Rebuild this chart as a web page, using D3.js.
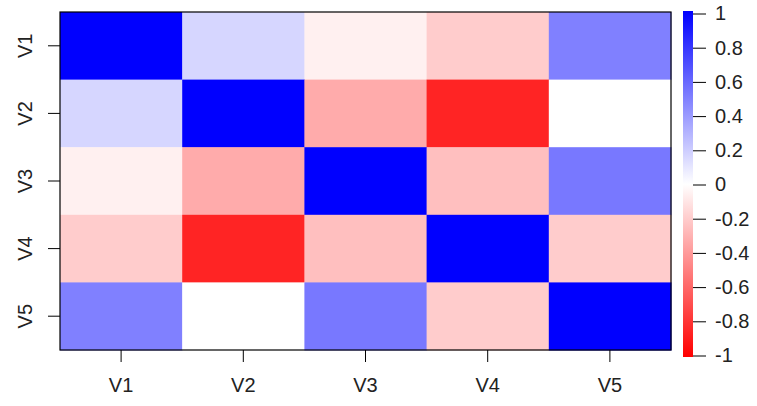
<!DOCTYPE html>
<html>
<head>
<meta charset="utf-8">
<script src="https://d3js.org/d3.v7.min.js"></script>
<style>
  body { margin: 0; background: #fff; }
  text { font-family: Arial, "Liberation Sans", sans-serif; fill: #222; }
</style>
</head>
<body>
<div id="chart"></div>
<script>
"use strict";
// variable names (rows / columns)
var vars = ["V1", "V2", "V3", "V4", "V5"];
// correlation matrix, row by row
var rowV1 = [1.00, 0.16, -0.06, -0.20, 0.50];
var rowV2 = [0.16, 1.00, -0.33, -0.86, 0.00];
var rowV3 = [-0.06, -0.33, 1.00, -0.25, 0.53];
var rowV4 = [-0.20, -0.86, -0.25, 1.00, -0.20];
var rowV5 = [0.50, 0.00, 0.53, -0.20, 1.00];
var matrix = [rowV1, rowV2, rowV3, rowV4, rowV5];
// colour bar ticks
var barTicks = [1, 0.8, 0.6, 0.4, 0.2, 0, -0.2, -0.4, -0.6, -0.8, -1];

var width = 757, height = 406;
var plot = {left: 60, top: 12, right: 671, bottom: 350};

var svg = d3.select("#chart").append("svg")
  .attr("width", width)
  .attr("height", height);

var x = d3.scaleBand().domain(vars).range([plot.left, plot.right]);
var y = d3.scaleBand().domain(vars).range([plot.top, plot.bottom]);
var color = d3.scaleLinear().domain([-1, 0, 1]).range(["#ff0000", "#ffffff", "#0000ff"]);

var cells = [];
matrix.forEach(function(row, i) {
  row.forEach(function(v, j) {
    cells.push({r: vars[i], c: vars[j], v: v});
  });
});

svg.append("g").selectAll("rect")
  .data(cells)
  .enter().append("rect")
  .attr("x", function(d) { return x(d.c); })
  .attr("y", function(d) { return y(d.r); })
  .attr("width", x.bandwidth() + 0.5)
  .attr("height", y.bandwidth() + 0.5)
  .attr("fill", function(d) { return color(d.v); });

// frame
svg.append("rect")
  .attr("x", plot.left).attr("y", plot.top)
  .attr("width", plot.right - plot.left)
  .attr("height", plot.bottom - plot.top)
  .attr("fill", "none").attr("stroke", "#000").attr("stroke-width", 1.2);

// x axis
var xAxis = svg.append("g")
  .attr("transform", "translate(0," + plot.bottom + ")")
  .call(d3.axisBottom(x).tickSize(12).tickPadding(16));
xAxis.select(".domain").remove();
xAxis.selectAll("text").style("font-size", "20px").style("fill", "#222")
  .attr("dy", "0.71em");

// y axis
var yAxis = svg.append("g")
  .attr("transform", "translate(" + plot.left + ",0)")
  .call(d3.axisLeft(y).tickSize(12).tickPadding(0));
yAxis.select(".domain").remove();
yAxis.selectAll("text")
  .style("font-size", "20px").style("fill", "#222")
  .attr("text-anchor", "middle")
  .attr("x", 0).attr("dy", 0)
  .attr("transform", "translate(-28,0) rotate(-90)");

// colour bar
var bar = {left: 683, right: 693, top: 11, bottom: 357};
var yBar = d3.scaleLinear().domain([-1, 1]).range([355.5, 13.5]);

var defs = svg.append("defs");
var grad = defs.append("linearGradient")
  .attr("id", "cbar")
  .attr("x1", 0).attr("y1", 0).attr("x2", 0).attr("y2", 1);
[1, 0, -1].forEach(function(v, i) {
  grad.append("stop").attr("offset", (i * 50) + "%").attr("stop-color", color(v));
});

svg.append("rect")
  .attr("x", bar.left).attr("y", bar.top)
  .attr("width", bar.right - bar.left)
  .attr("height", bar.bottom - bar.top)
  .attr("fill", "url(#cbar)");

var barAxis = svg.append("g")
  .attr("transform", "translate(" + bar.right + ",0)")
  .call(d3.axisRight(yBar).tickValues(barTicks).tickSize(13).tickPadding(9)
    .tickFormat(function(d) { return d3.format("")(+d.toFixed(1)).replace("−", "-"); }));
barAxis.select(".domain").remove();
barAxis.selectAll("text").style("font-size", "20px").style("fill", "#222");
</script>
</body>
</html>
